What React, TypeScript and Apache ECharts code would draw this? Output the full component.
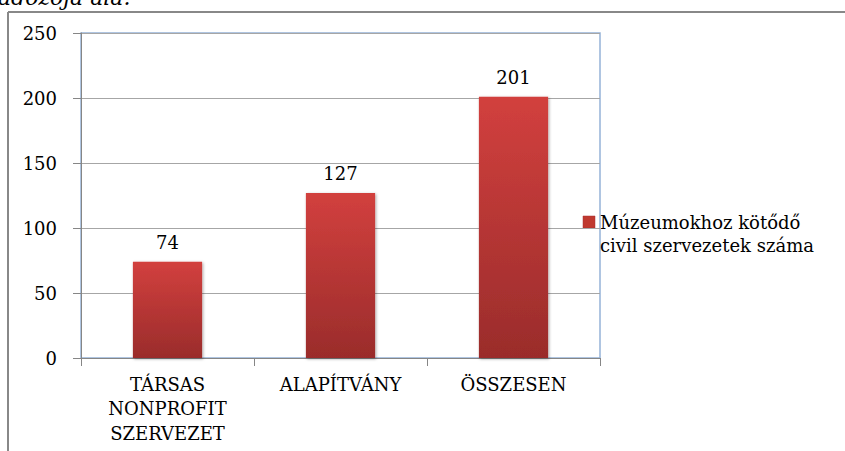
import React, { useEffect, useRef } from "react";
import * as echarts from "echarts";

const categories = ["TÁRSAS\nNONPROFIT\nSZERVEZET", "ALAPÍTVÁNY", "ÖSSZESEN"];
const values = [74, 127, 201];
const seriesName = "Múzeumokhoz kötődő\ncivil szervezetek száma";
const yTicks = { min: 0, max: 250, interval: 50 };
const topText = "ádozója alá.";

const FONT = "DejaVu Serif";
const FS = 18;

export default function App() {
  const ref = useRef<HTMLDivElement>(null);
  useEffect(() => {
    document.body.style.margin = "0";
    const chart = echarts.init(ref.current!, undefined, { renderer: "svg" });
    chart.setOption({
      animation: false,
      backgroundColor: "#ffffff",
      textStyle: { fontFamily: FONT },
      grid: {
        left: 81,
        right: 245,
        top: 33,
        bottom: 93,
        show: true,
        borderColor: "#95b3d7",
        borderWidth: 1.5,
        backgroundColor: "transparent",
      },
      xAxis: {
        type: "category",
        data: categories,
        axisLine: { show: true, lineStyle: { color: "#868686", width: 1 } },
        axisTick: { show: true, length: 8, alignWithLabel: false, lineStyle: { color: "#868686" } },
        axisLabel: {
          interval: 0,
          margin: 14,
          fontFamily: FONT,
          fontSize: FS,
          lineHeight: 24.5,
          color: "#000",
        },
      },
      yAxis: {
        type: "value",
        min: yTicks.min,
        max: yTicks.max,
        interval: yTicks.interval,
        axisLine: { show: true, lineStyle: { color: "#868686", width: 1 } },
        axisTick: { show: true, length: 8, lineStyle: { color: "#868686" } },
        splitLine: { show: true, lineStyle: { color: "#a6a6a6", width: 1 } },
        axisLabel: {
          margin: 24,
          fontFamily: FONT,
          fontSize: FS,
          color: "#000",
        },
      },
      series: [
        {
          name: seriesName,
          type: "bar",
          data: values,
          barWidth: "40%",
          itemStyle: {
            color: new echarts.graphic.LinearGradient(0, 0, 0, 1, [
              { offset: 0, color: "#d2403e" },
              { offset: 1, color: "#9a2c2b" },
            ]),
            shadowBlur: 3,
            shadowColor: "rgba(0,0,0,0.35)",
            shadowOffsetX: 1,
            shadowOffsetY: 1,
          },
          label: {
            show: true,
            position: "top",
            distance: 10,
            fontFamily: FONT,
            fontSize: FS,
            color: "#000",
          },
        },
      ],
      graphic: [
        {
          type: "text",
          x: -2,
          y: -14,
          style: {
            text: topText,
            fontFamily: FONT,
            fontStyle: "italic",
            fontSize: 22,
            fill: "#000",
          },
        },
        {
          type: "line",
          shape: { x1: 8, y1: 12, x2: 845, y2: 12 },
          style: { stroke: "#888888", lineWidth: 2 },
        },
        {
          type: "line",
          shape: { x1: 8, y1: 12, x2: 8, y2: 451 },
          style: { stroke: "#888888", lineWidth: 2 },
        },
        {
          type: "rect",
          shape: { x: 583, y: 216, width: 12, height: 12 },
          style: { fill: "#c0392f", stroke: "#a83230", lineWidth: 0.5 },
        },
        {
          type: "text",
          x: 600,
          y: 211,
          style: {
            text: seriesName,
            fontFamily: FONT,
            fontSize: FS,
            lineHeight: 23,
            fill: "#000",
            verticalAlign: "top",
          },
        },
      ],
    });
    return () => chart.dispose();
  }, []);
  return (
    <div
      ref={ref}
      style={{ position: "absolute", left: 0, top: 0, width: 845, height: 451 }}
    />
  );
}
